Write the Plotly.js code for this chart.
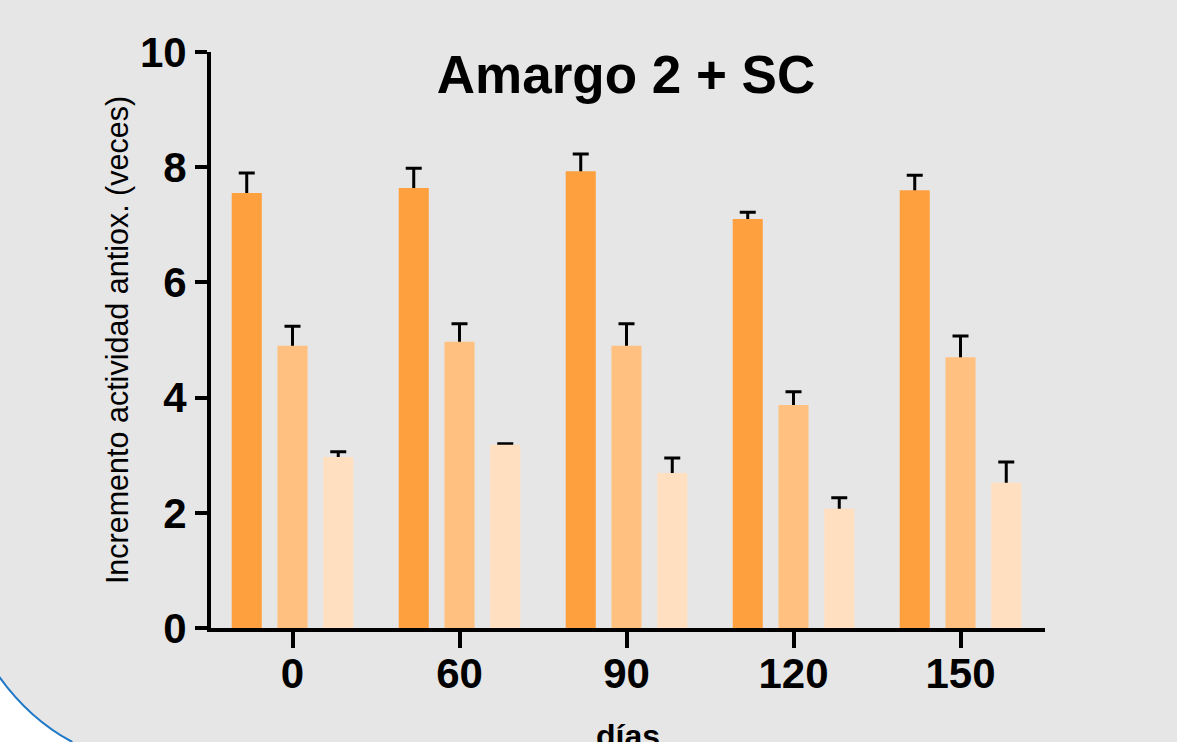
<!DOCTYPE html>
<html>
<head>
<meta charset="utf-8">
<script src="https://cdn.plot.ly/plotly-3.0.1.min.js"></script>
<style>
  html, body { margin: 0; padding: 0; background: #e6e6e6; }
  #chart { width: 1177px; height: 742px; }
</style>
</head>
<body>
<div id="chart"></div>
<script>
// Data
const days = ['0', '60', '90', '120', '150'];
const serie1 = [7.55, 7.64, 7.93, 7.10, 7.60];
const err1   = [0.35, 0.34, 0.30, 0.12, 0.26];
const serie2 = [4.90, 4.97, 4.90, 3.87, 4.70];
const err2   = [0.34, 0.31, 0.38, 0.23, 0.37];
const serie3 = [2.97, 3.18, 2.69, 2.07, 2.52];
const err3   = [0.09, 0.02, 0.26, 0.19, 0.36];
const yTicks = [0, 2, 4, 6, 8, 10];

const colors = ['#ffa03f', '#ffc080', '#ffdfbf'];
const series = [
  { name: 'Serie 1', y: serie1, e: err1 },
  { name: 'Serie 2', y: serie2, e: err2 },
  { name: 'Serie 3', y: serie3, e: err3 }
];
const centers = [-0.274, 0, 0.274];
const barW = 0.18;

const traces = [];
// Error bars first (carried by transparent bars), so the coloured bars cover the lower part.
series.forEach((s, i) => {
  traces.push({
    type: 'bar', x: days, y: s.y, name: s.name + ' err',
    width: barW, offset: centers[i] - barW / 2,
    marker: { color: 'rgba(0,0,0,0)', line: { width: 0 } },
    error_y: { type: 'data', symmetric: false, array: s.e, arrayminus: s.y,
               color: '#000', thickness: 3, width: 8 },
    hoverinfo: 'skip', showlegend: false
  });
});
series.forEach((s, i) => {
  traces.push({
    type: 'bar', x: days, y: s.y, name: s.name,
    width: barW, offset: centers[i] - barW / 2,
    marker: { color: colors[i], line: { width: 0 } },
    showlegend: false
  });
});

const FONT = 'Liberation Sans, Arial, Helvetica, sans-serif';

const layout = {
  width: 1177, height: 742,
  paper_bgcolor: '#e6e6e6', plot_bgcolor: '#e6e6e6',
  margin: { l: 211, r: 132, t: 52, b: 114 },
  barmode: 'overlay',
  showlegend: false,
  font: { family: FONT, color: '#000' },
  title: {
    text: 'Amargo 2 + SC',
    font: { family: FONT, size: 53, weight: 'bold', color: '#000' },
    x: 626 / 1177, xanchor: 'center', xref: 'container',
    y: 1 - 74 / 742, yanchor: 'middle', yref: 'container'
  },
  xaxis: {
    type: 'category', range: [-0.488, 4.506],
    showline: true, linecolor: '#000', linewidth: 4,
    ticks: 'outside', ticklen: 16, tickwidth: 4, tickcolor: '#000',
    ticklabelstandoff: -10,
    tickfont: { family: FONT, size: 42, weight: 'bold', color: '#000' },
    showgrid: false, zeroline: false, fixedrange: true
  },
  yaxis: {
    range: [0, 10], tickvals: yTicks, ticktext: yTicks.map(String),
    showline: true, linecolor: '#000', linewidth: 4,
    ticks: 'outside', ticklen: 12, tickwidth: 4, tickcolor: '#000',
    tickfont: { family: FONT, size: 42, weight: 'bold', color: '#000' },
    showgrid: false, zeroline: false, fixedrange: true,
    title: { text: 'Incremento actividad antiox. (veces)', font: { family: FONT, size: 30.5, color: '#000' }, standoff: 3 }
  },
  annotations: [
    {
      text: 'días', xref: 'paper', yref: 'paper', x: 0.5, y: (628 - 716) / 576,
      xanchor: 'center', yanchor: 'top', showarrow: false,
      font: { family: FONT, size: 32, weight: 'bold', color: '#000' }
    }
  ],
  shapes: [
    {
      type: 'path', xref: 'paper', yref: 'paper', layer: 'below',
      path: 'M -0.26 -0.078 Q -0.2177 -0.158 -0.1663 -0.1979 L -0.16 -0.30 L -0.30 -0.30 L -0.30 -0.078 Z',
      fillcolor: '#ffffff', line: { width: 0 }
    },
    {
      type: 'path', xref: 'paper', yref: 'paper', layer: 'below',
      path: 'M -0.2536 -0.0851 Q -0.2177 -0.158 -0.1663 -0.1979',
      line: { color: '#1f78c8', width: 2 }
    }
  ]
};

Plotly.newPlot('chart', traces, layout, { displayModeBar: false, staticPlot: true });
</script>
</body>
</html>
